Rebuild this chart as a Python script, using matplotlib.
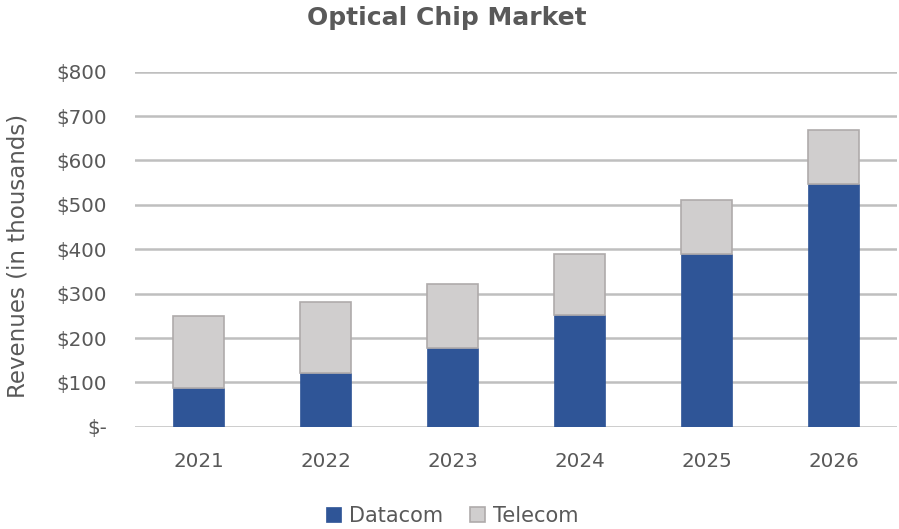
import matplotlib
matplotlib.use("Agg")
import matplotlib.pyplot as plt
import numpy as np

years = ["2021", "2022", "2023", "2024", "2025", "2026"]
datacom = [87, 121, 177, 253, 389, 548]
telecom = [163, 160, 145, 136, 123, 120]
yticks = [0, 100, 200, 300, 400, 500, 600, 700, 800]
ytick_labels = ["$-", "$100", "$200", "$300", "$400", "$500", "$600", "$700", "$800"]

plt.rcParams['font.family'] = ['DejaVu Sans']
txt = "#595959"

fig = plt.figure(figsize=(8.99, 5.29), dpi=100)
ax = fig.add_axes([0.150, 0.193, 0.848, 0.6716])

x = np.arange(len(years))
ax.bar(x, datacom, width=0.4, color="#2F5597", edgecolor="#2F5597", linewidth=0.5, label="Datacom", zorder=3)
ax.bar(x, telecom, width=0.4, bottom=datacom, color="#D0CECE", edgecolor="#AFABAB", linewidth=1.2, label="Telecom", zorder=3)

ax.set_xlim(-0.5, len(years) - 0.5)
ax.set_ylim(0, 800)
ax.set_yticks(yticks)
ax.set_yticklabels(ytick_labels)
ax.set_xticks(x)
ax.set_xticklabels(years)
ax.tick_params(axis='both', length=0, labelsize=14.3, colors=txt)
ax.tick_params(axis='y', pad=20)
ax.tick_params(axis='x', pad=18)
ax.grid(axis='y', color="#BFBFBF", linewidth=1.8, zorder=0)
for s in ax.spines.values():
    s.set_visible(False)

fig.text(18 / 899, 0.516, "Revenues (in thousands)", rotation=90, ha='center', va='center',
         fontsize=16.5, color=txt)
fig.text(447 / 899, 1 - 18 / 529, "Optical Chip Market", ha='center', va='center',
         fontsize=18, fontweight='heavy', color=txt)

leg = fig.legend(loc='center', bbox_to_anchor=(452 / 899, 1 - 516 / 529), ncol=2, frameon=False, fontsize=15,
                 handlelength=0.75, handleheight=0.75, columnspacing=1.3, handletextpad=0.35,
                 borderaxespad=0, borderpad=0)
for t in leg.get_texts():
    t.set_color(txt)

fig.savefig("out.png", dpi=100)
